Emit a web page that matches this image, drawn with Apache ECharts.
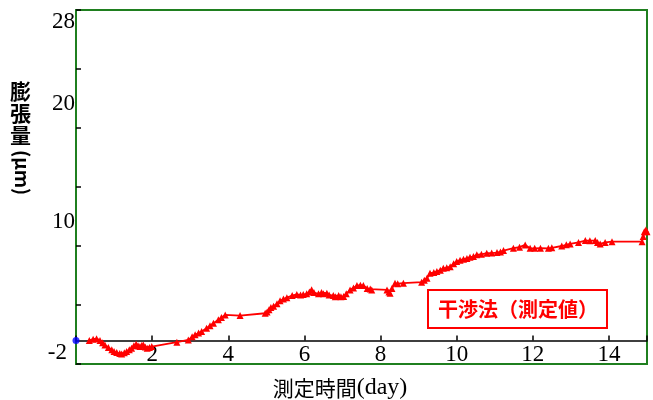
<!DOCTYPE html>
<html>
<head>
<meta charset="utf-8">
<script src="https://cdn.jsdelivr.net/npm/echarts@6/dist/echarts.min.js"></script>
<style>
html,body{margin:0;padding:0;background:#fff;}
#chart{width:653px;height:400px;}
</style>
</head>
<body>
<div id="chart"></div>
<script>
// Measured series (day, expansion µm)
const measureDays = [0.35,0.45,0.54,0.63,0.7,0.76,0.85,0.94,1.0,1.07,1.15,1.2,1.27,1.33,1.4,1.46,1.52,1.58,1.63,1.68,1.73,1.77,1.82,1.87,1.93,1.99,2.65,2.95,3.05,3.13,3.22,3.3,3.43,3.52,3.61,3.74,3.82,3.92,4.31,4.97,5.02,5.07,5.12,5.19,5.28,5.36,5.45,5.54,5.68,5.8,5.9,5.97,6.06,6.13,6.19,6.25,6.37,6.45,6.5,6.59,6.65,6.76,6.81,6.9,6.96,7.03,7.1,7.2,7.29,7.38,7.47,7.55,7.65,7.73,7.77,8.17,8.22,8.25,8.3,8.38,8.45,8.6,9.08,9.15,9.22,9.3,9.4,9.48,9.57,9.65,9.74,9.83,9.92,10.0,10.09,10.18,10.27,10.35,10.44,10.53,10.65,10.79,10.92,11.06,11.15,11.23,11.49,11.65,11.8,11.93,12.05,12.2,12.41,12.5,12.76,12.88,12.98,13.2,13.38,13.5,13.64,13.7,13.77,13.9,14.08,14.87,14.9,14.93,14.97,15.0];
const measureValues = [0.0,0.1,0.15,0.0,-0.2,-0.38,-0.6,-0.8,-0.95,-1.03,-1.12,-1.15,-1.05,-0.95,-0.8,-0.66,-0.45,-0.32,-0.45,-0.52,-0.42,-0.38,-0.55,-0.66,-0.6,-0.52,-0.15,0.04,0.3,0.47,0.62,0.75,1.03,1.25,1.46,1.74,1.95,2.16,2.1,2.3,2.4,2.6,2.78,2.9,3.1,3.35,3.5,3.62,3.8,3.9,3.85,3.88,3.95,4.1,4.3,4.05,3.95,4.05,3.95,4.0,3.85,3.8,3.7,3.8,3.7,3.72,3.95,4.28,4.45,4.65,4.68,4.65,4.4,4.35,4.28,4.28,4.1,4.0,4.4,4.85,4.8,4.85,4.93,5.1,5.27,5.69,5.75,5.83,5.95,6.12,6.15,6.25,6.5,6.68,6.8,6.88,6.95,7.05,7.1,7.25,7.3,7.39,7.4,7.44,7.5,7.61,7.81,7.9,8.09,7.81,7.8,7.81,7.8,7.85,8.0,8.1,8.18,8.3,8.46,8.45,8.46,8.3,8.18,8.3,8.37,8.37,8.8,9.2,9.35,9.2];
const originPoint = [[0, 0]];
const yLabelValues = [28, 20, 10, -2];
const xLabelValues = [2, 4, 6, 8, 10, 12, 14];
const seriesName = '干渉法（測定値）';

const chart = echarts.init(document.getElementById('chart'));
const serif = '"Liberation Serif", "DejaVu Serif", serif';
const cjk = '"Noto Sans CJK JP", "Noto Sans", sans-serif';

const gridTop = 10, gridBottom = 36, chartH = 400;
const yMin = -2, yMax = 28;
const plotH = chartH - gridTop - gridBottom;
// shift the x axis up so it runs along y = 0
const zeroOffset = -plotH * (0 - yMin) / (yMax - yMin);

chart.setOption({
  animation: false,
  backgroundColor: '#fff',
  grid: { left: 76, right: 6, top: gridTop, bottom: gridBottom, show: true, borderColor: '#1f7f1f', borderWidth: 2, backgroundColor: 'transparent' },
  legend: {
    data: [{ name: seriesName, icon: 'none' }],
    left: 428, top: 290,
    itemWidth: 0, itemHeight: 0,
    padding: [9, 9, 9, 5],
    borderColor: '#ff0000', borderWidth: 2, backgroundColor: '#fff',
    selectedMode: false,
    textStyle: { color: '#ff0000', fontWeight: 'bold', fontSize: 20, fontFamily: cjk }
  },
  xAxis: {
    type: 'value', min: 0, max: 15, interval: 2,
    position: 'bottom', offset: zeroOffset,
    axisLine: { onZero: false, lineStyle: { color: '#000', width: 1.5 } },
    axisTick: { inside: true, length: 5, lineStyle: { color: '#000', width: 1.5 } },
    axisLabel: {
      margin: 3, color: '#000', fontSize: 23, fontFamily: serif,
      formatter: v => xLabelValues.indexOf(v) >= 0 ? String(v) : ''
    },
    splitLine: { show: false }
  },
  yAxis: [{
    type: 'value', min: yMin, max: yMax, interval: 5,
    axisLine: { show: false },
    axisTick: { inside: true, length: 5, lineStyle: { color: '#000', width: 1.5 } },
    axisLabel: { show: false },
    splitLine: { show: false }
  }, {
    type: 'value', min: yMin, max: yMax, interval: 2, position: 'left',
    axisLine: { show: false }, axisTick: { show: false }, splitLine: { show: false },
    axisLabel: {
      margin: 1, color: '#000', fontSize: 23, fontFamily: serif,
      verticalAlignMaxLabel: 'top', verticalAlignMinLabel: 'bottom',
      formatter: v => yLabelValues.indexOf(v) < 0 ? '' : (v < 0 ? '{m|' + v + '}' : String(v)),
      rich: { m: { fontSize: 23, fontFamily: serif, color: '#000', padding: [0, 8, 0, 0] } }
    }
  }],
  graphic: [
    { type: 'text', left: 10, top: 80, style: { text: '膨\n張\n量', font: 'bold 21px ' + cjk, fill: '#000', lineHeight: 22 } },
    { type: 'text', x: 22, y: 150, rotation: -Math.PI / 2, style: { text: '(μm)', font: 'bold 19px ' + cjk, fill: '#000', align: 'left', verticalAlign: 'middle' } },
    { type: 'text', x: 340, y: 388, style: {
        text: '{a|測定時間}{b|(day)}', align: 'center', verticalAlign: 'middle',
        rich: { a: { fontFamily: cjk, fontSize: 21, fill: '#000' }, b: { fontFamily: serif, fontSize: 24, fill: '#000' } }
    } }
  ],
  series: [{
    name: seriesName, type: 'line', yAxisIndex: 0,
    data: measureDays.map((d, i) => [d, measureValues[i]]),
    symbol: 'triangle', symbolSize: 7, showAllSymbol: true,
    itemStyle: { color: '#ff0000' },
    lineStyle: { color: '#ff0000', width: 1.8 }
  }, {
    name: 'origin', type: 'scatter', yAxisIndex: 0,
    data: originPoint, symbol: 'circle', symbolSize: 7,
    itemStyle: { color: '#0000ff' }
  }]
});
</script>
</body>
</html>
